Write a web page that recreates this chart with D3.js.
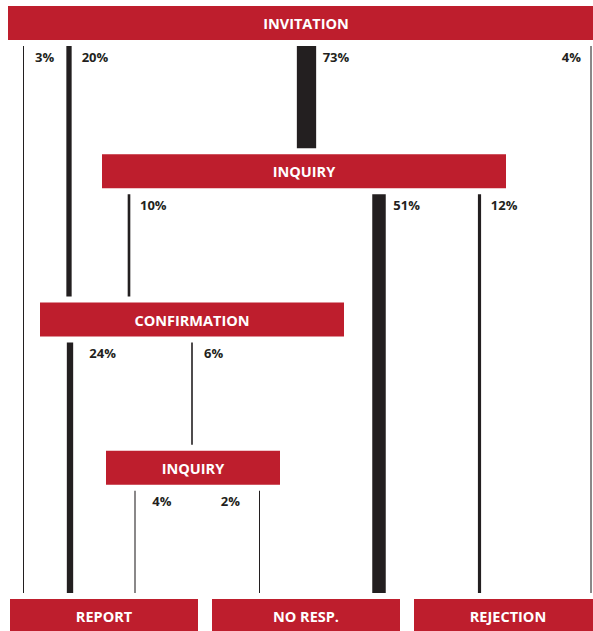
<!DOCTYPE html>
<html>
<head>
<meta charset="utf-8">
<script src="https://cdn.jsdelivr.net/npm/d3@7"></script>
<style>
  html, body { margin: 0; padding: 0; background: #fff; }
  svg { display: block; }
</style>
</head>
<body>
<div id="chart"></div>
<script>
// ---- DATA ----
const nodeNames = ["INVITATION", "INQUIRY", "CONFIRMATION", "INQUIRY", "REPORT", "NO RESP.", "REJECTION"];
const flowFrom   = [0, 0, 0, 0, 1, 1, 1, 2, 2, 3, 3];
const flowTo     = [4, 2, 1, 6, 2, 5, 6, 4, 3, 4, 5];
const flowValues = [3, 20, 73, 4, 10, 51, 12, 24, 6, 4, 2];
const flowLabels = ["3%", "20%", "73%", "4%", "10%", "51%", "12%", "24%", "6%", "4%", "2%"];

// ---- LAYOUT (positions only) ----
const nodeLevel = [0, 1, 2, 3, 4, 4, 4];
const nodeX0    = [8, 102, 40, 106, 10, 212, 414];
const nodeX1    = [604, 506, 344, 280, 198, 400, 602];
const flowX     = [23.5, 69, 306.5, 591, 129, 379, 479.5, 70, 192, 135, 259.5];
const labelDx   = [11.5, 12.7, 16.2, -10, 11, 14.3, 11.3, 19.3, 12, 17.3, -19.5];

const W = 593, H = 631;
const RED = "#be1e2d", DARK = "#231f20";
const boxH = 34, gap = 6;

const svg = d3.select("#chart").append("svg")
  .attr("width", W).attr("height", H)
  .style("font-family", "'Open Sans', 'Noto Sans', sans-serif");

const y = d3.scaleLinear().domain([0, 4]).range([6, 599]);
const w = d3.scaleLinear().domain([0, 73]).range([0, 19.3]);

const flows = flowValues.map((v, i) => ({
  value: v, label: flowLabels[i], from: flowFrom[i], to: flowTo[i],
  cx: flowX[i], dx: labelDx[i]
}));

// flows
const fg = svg.append("g");
fg.selectAll("rect").data(flows).join("rect")
  .attr("x", d => d.cx - Math.max(1, w(d.value)) / 2)
  .attr("width", d => Math.max(1, w(d.value)))
  .attr("y", d => y(nodeLevel[d.from]) + boxH + gap)
  .attr("height", d => (y(nodeLevel[d.to]) - gap) - (y(nodeLevel[d.from]) + boxH + gap))
  .attr("fill", DARK);

fg.selectAll("text").data(flows).join("text")
  .attr("x", d => d.cx + d.dx)
  .attr("y", d => y(nodeLevel[d.from]) + boxH + gap + 15.5)
  .attr("text-anchor", d => d.dx < 0 ? "end" : "start")
  .attr("font-size", 13)
  .attr("font-weight", 700)
  .attr("fill", DARK)
  .text(d => d.label);

// nodes
const nodes = nodeNames.map((n, i) => ({ name: n, level: nodeLevel[i], x0: nodeX0[i], x1: nodeX1[i] }));
const ng = svg.append("g");
ng.selectAll("rect").data(nodes).join("rect")
  .attr("x", d => d.x0).attr("width", d => d.x1 - d.x0)
  .attr("y", d => y(d.level)).attr("height", boxH)
  .attr("fill", RED);
ng.selectAll("text").data(nodes).join("text")
  .attr("x", d => (d.x0 + d.x1) / 2)
  .attr("y", d => y(d.level) + 23)
  .attr("text-anchor", "middle")
  .attr("font-size", 14.5)
  .attr("font-weight", 700)
  .attr("fill", "#fff")
  .text(d => d.name);
</script>
</body>
</html>
